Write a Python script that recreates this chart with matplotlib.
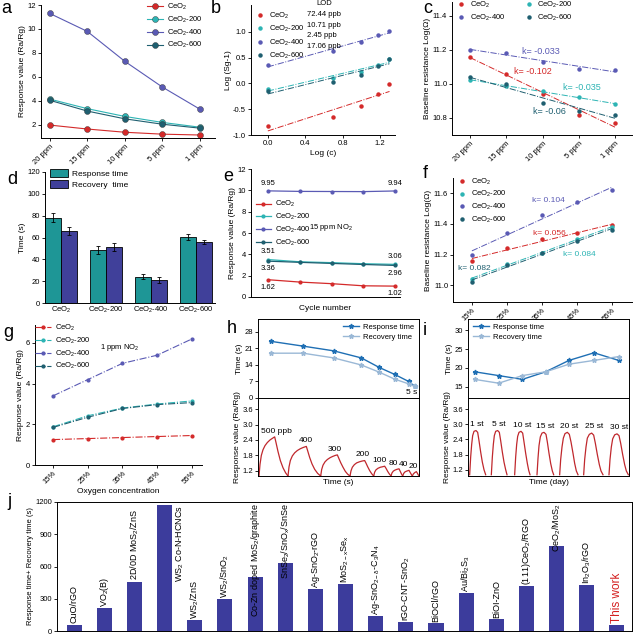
import matplotlib
matplotlib.use('Agg')
import matplotlib.pyplot as plt
import numpy as np
from matplotlib.lines import Line2D

plt.rcParams['font.family'] = ['Liberation Sans', 'DejaVu Sans']
plt.rcParams['mathtext.default'] = 'regular'
plt.rcParams['axes.linewidth'] = 0.7

# ---------------- data ----------------
samples = ['CeO$_2$', 'CeO$_2$-200', 'CeO$_2$-400', 'CeO$_2$-600']
colors = ['#d42a2a', '#2db4b4', '#5a5ab4', '#1f5f70']

ppm = ['20 ppm', '15 ppm', '10 ppm', '5 ppm', '1 ppm']
a_ceo2 = [1.98, 1.65, 1.38, 1.22, 1.15]
a_200 = [4.15, 3.35, 2.70, 2.20, 1.80]
a_400 = [11.3, 9.8, 7.3, 5.15, 3.3]
a_600 = [4.05, 3.15, 2.50, 2.05, 1.72]

conc = [1, 5, 10, 15, 20]
b_ceo2 = [-0.83, -0.66, -0.44, -0.20, -0.02]
b_200 = [-0.11, 0.10, 0.22, 0.36, 0.48]
b_400 = [0.35, 0.62, 0.80, 0.94, 1.01]
b_600 = [-0.15, 0.03, 0.17, 0.33, 0.48]
lod = ['72.44 ppb', '10.71 ppb', '2.45 ppb', '17.06 ppb']

c_ceo2 = [11.16, 11.06, 10.94, 10.82, 10.77]
c_200 = [11.02, 10.99, 10.96, 10.92, 10.88]
c_400 = [11.20, 11.18, 11.13, 11.09, 11.08]
c_600 = [11.04, 11.00, 10.89, 10.84, 10.82]
c_k = ['k= -0.102', 'k= -0.035', 'k= -0.033', 'k= -0.06']

d_resp = [78, 48.5, 24, 60.5]
d_resp_err = [4, 3.5, 2.3, 2.8]
d_rec = [66, 51.5, 21, 56]
d_rec_err = [3.5, 3.5, 2.7, 1.5]

cycles = [1, 2, 3, 4, 5]
e_ceo2 = [1.62, 1.40, 1.25, 1.05, 1.02]
e_200 = [3.51, 3.30, 3.22, 3.12, 3.06]
e_400 = [9.95, 9.90, 9.89, 9.88, 9.94]
e_600 = [3.36, 3.25, 3.15, 3.05, 2.96]

oxy = ['15%', '25%', '35%', '45%', '55%']
f_ceo2 = [11.16, 11.24, 11.30, 11.34, 11.39]
f_200 = [11.04, 11.14, 11.21, 11.30, 11.38]
f_400 = [11.20, 11.34, 11.46, 11.54, 11.62]
f_600 = [11.02, 11.13, 11.21, 11.29, 11.36]
f_k = ['k= 0.056', 'k= 0.084', 'k= 0.104', 'k= 0.082']

g_ceo2 = [1.25, 1.30, 1.35, 1.40, 1.45]
g_200 = [1.88, 2.42, 2.80, 3.00, 3.15]
g_400 = [3.40, 4.20, 5.00, 5.40, 6.20]
g_600 = [1.85, 2.35, 2.78, 2.97, 3.07]

h_conc = ['500 ppb', '400', '300', '200', '100', '80', '40', '20']
h_t = [40, 135, 227, 310, 363, 410, 452, 470]
h_resp = [24, 22, 20, 17, 13, 10, 7, 5]
h_rec = [19, 19, 17, 14, 11, 8, 6, 5]
h_curve_t = [
    [3, 6, 10, 15, 21, 28, 36, 44, 50, 54, 60, 67, 75, 83, 90],
    [90, 93, 97, 103, 110, 118, 127, 136, 145, 149, 155, 162, 170, 179, 188],
    [188, 191, 195, 201, 208, 216, 224, 232, 238, 242, 248, 255, 262, 269, 276],
    [276, 279, 283, 289, 296, 304, 312, 320, 324, 329, 335, 341, 347],
    [347, 350, 354, 360, 367, 374, 380, 384, 389, 394, 399],
    [399, 402, 406, 411, 417, 423, 426, 430, 434],
    [434, 437, 441, 446, 453, 456, 460, 463],
    [463, 466, 470, 475, 478, 481, 483],
]
h_curve_v = [
    [1.0, 1.45, 1.8, 2.02, 2.18, 2.3, 2.4, 2.47, 2.52, 2.3, 1.95, 1.6, 1.32, 1.12, 1.0],
    [1.0, 1.35, 1.6, 1.78, 1.9, 1.99, 2.06, 2.11, 2.15, 1.98, 1.72, 1.47, 1.26, 1.1, 1.0],
    [1.0, 1.25, 1.42, 1.55, 1.64, 1.71, 1.76, 1.8, 1.82, 1.7, 1.52, 1.34, 1.18, 1.07, 1.0],
    [1.0, 1.2, 1.34, 1.44, 1.51, 1.55, 1.58, 1.6, 1.5, 1.36, 1.21, 1.09, 1.0],
    [1.0, 1.15, 1.24, 1.3, 1.34, 1.36, 1.38, 1.3, 1.18, 1.08, 1.0],
    [1.0, 1.12, 1.19, 1.23, 1.26, 1.28, 1.2, 1.09, 1.0],
    [1.0, 1.1, 1.16, 1.19, 1.22, 1.15, 1.06, 1.0],
    [1.0, 1.08, 1.13, 1.17, 1.11, 1.04, 1.0],
]

i_days = ['1 st', '5 st', '10 st', '15 st', '20 st', '25 st', '30 st']
i_t = [20, 92, 163, 233, 303, 378, 452]
i_resp = [19, 18, 17, 19, 22, 24, 22]
i_rec = [17, 16, 18, 19, 21, 22, 23]
i_curve_t = [
    [5, 8, 11, 14, 18, 24, 29, 33, 38, 43, 48, 53],
    [70, 73, 76, 79, 83, 89, 94, 98, 103, 108, 113, 117],
    [140, 143, 146, 149, 153, 159, 164, 168, 173, 178, 182, 186],
    [207, 210, 213, 217, 222, 228, 234, 238, 243, 248, 253, 257],
    [275, 278, 282, 286, 291, 298, 304, 309, 315, 320, 325, 330],
    [347, 350, 354, 358, 364, 371, 377, 382, 388, 394, 399, 405],
    [423, 426, 430, 434, 440, 447, 453, 458, 464, 470, 475, 481],
]
i_curve_v = [
    [1.0, 1.7, 2.2, 2.55, 2.72, 2.75, 2.68, 2.35, 1.9, 1.5, 1.2, 1.0],
    [1.0, 1.7, 2.2, 2.55, 2.72, 2.75, 2.68, 2.35, 1.9, 1.5, 1.2, 1.0],
    [1.0, 1.7, 2.2, 2.52, 2.68, 2.72, 2.65, 2.3, 1.85, 1.45, 1.18, 1.0],
    [1.0, 1.65, 2.15, 2.5, 2.65, 2.68, 2.6, 2.3, 1.85, 1.45, 1.15, 1.0],
    [1.0, 1.6, 2.1, 2.45, 2.63, 2.68, 2.6, 2.3, 1.85, 1.45, 1.15, 1.0],
    [1.0, 1.6, 2.1, 2.45, 2.6, 2.65, 2.57, 2.25, 1.8, 1.4, 1.15, 1.0],
    [1.0, 1.6, 2.1, 2.42, 2.58, 2.62, 2.55, 2.25, 1.8, 1.4, 1.15, 1.0],
]

j_labels = ['CuO/rGO', 'VO$_2$(B)', '2D/0D MoS$_2$/ZnS', 'WS$_2$ Co-N-HCNCs',
            'WS$_2$/ZnS', 'WS$_2$/SnO$_2$', 'Co-Zn doped MoS$_2$/graphite',
            'SnSe$_2$/SnO$_x$/SnSe', 'Ag-SnO$_2$-rGO', 'MoS$_{2-x}$Se$_x$',
            'Ag-SnO$_{2-\\delta}$-C$_3$N$_4$', 'rGO-CNT-SnO$_2$', 'BiOCl/rGO',
            'Au/Bi$_2$S$_3$', 'BiOI-ZnO', '(111)CeO$_2$/RGO', 'CeO$_2$/MoS$_2$',
            'In$_2$O$_3$/rGO', 'This work']
j_vals = [60, 210, 460, 1175, 105, 300, 500, 630, 390, 440, 140, 85, 70,
          355, 115, 420, 790, 425, 60]

# ---------------- layout helpers ----------------
W, H = 640, 638
fig = plt.figure(figsize=(W / 100, H / 100), dpi=100)


def box(l, t, r, b):
    return fig.add_axes([l / W, 1 - b / H, (r - l) / W, (b - t) / H])


def style(ax, full=False):
    ax.spines['top'].set_visible(full)
    ax.spines['right'].set_visible(full)
    ax.tick_params(labelsize=5.5, length=2, width=0.6, pad=1.5)


LAB = 6
LEG = dict(frameon=False, fontsize=5.5, handletextpad=0.5, borderaxespad=0.2)

# ---------------- a ----------------
ax = box(41, 5, 215, 138)
style(ax)
xa = np.arange(len(ppm))
for vals, lab, c in zip([a_ceo2, a_200, a_400, a_600], samples, colors):
    ax.plot(xa, vals, '-o', color=c, ms=4.3, lw=0.8, mec='#333333', mew=0.3, label=lab)
ax.set_xlim(-0.23, 4.4)
ax.set_ylim(0.9, 12)
ax.set_yticks([2, 4, 6, 8, 10, 12])
ax.set_xticks(xa)
ax.set_xticklabels(ppm, rotation=45, ha='right', rotation_mode='anchor')
ax.set_ylabel('Response value (Ra/Rg)', fontsize=LAB, labelpad=1)
ax.legend(loc='upper left', bbox_to_anchor=(0.58, 1.06), labelspacing=0.35,
          handlelength=2.2, **LEG)

# ---------------- b ----------------
ax = box(251, 5, 395, 135)
style(ax)
logc = np.log10(conc)
for vals, lab, c in zip([b_ceo2, b_200, b_400, b_600], samples, colors):
    vals = np.array(vals)
    ax.plot(logc, vals, 'o', ms=2.2, color=c, label=lab)
    k, b0 = np.polyfit(logc, vals, 1)
    ends = logc[[0, -1]]
    ax.plot(ends, k * ends + b0, '-.', color=c, lw=0.7)
ax.set_xlim(-0.18, 1.36)
ax.set_ylim(-1.0, 1.52)
ax.set_xticks([0.0, 0.4, 0.8, 1.2])
ax.set_xticklabels(['0.0', '0.4', '0.8', '1.2'])
ax.set_yticks([-1.0, -0.5, 0.0, 0.5, 1.0])
ax.set_yticklabels(['-1.0', '-0.5', '0.0', '0.5', '1.0'])
ax.set_xlabel('Log (c)', fontsize=LAB, labelpad=2)
ax.set_ylabel('Log (Sg-1)', fontsize=LAB, labelpad=1)
leg1 = ax.legend(loc='upper left', bbox_to_anchor=(0.0, 1.07), title=' ',
                 title_fontsize=5.5, labelspacing=0.42, handlelength=1.2, **LEG)
ax.add_artist(leg1)
blank = [Line2D([], [], linestyle='none') for _ in lod]
ax.legend(blank, lod, loc='upper left', bbox_to_anchor=(0.36, 1.07), title='LOD',
          title_fontsize=5.5, labelspacing=0.42, handlelength=0, handletextpad=0,
          frameon=False, fontsize=5.5, borderaxespad=0.2)

# ---------------- c ----------------
ax = box(452, 2, 632, 135)
style(ax)
xc = np.arange(len(ppm))
for vals, lab, c in zip([c_ceo2, c_200, c_400, c_600], samples, colors):
    vals = np.array(vals)
    ax.plot(xc, vals, 'o', ms=2.2, color=c, label=lab)
    k, b0 = np.polyfit(xc, vals, 1)
    ax.plot(xc[[0, -1]], k * xc[[0, -1]] + b0, '-.', color=c, lw=0.7)
for txt, c, (tx, ty) in zip(c_k, colors, [(1.22, 11.074), (2.57, 10.976),
                                         (1.43, 11.19), (1.74, 10.836)]):
    ax.text(tx, ty, txt, color=c, fontsize=6.5, va='center')
ax.set_xlim(-0.5, 4.47)
ax.set_ylim(10.70, 11.48)
ax.set_yticks([10.8, 11.0, 11.2, 11.4])
ax.set_xticks(xc)
ax.set_xticklabels(ppm, rotation=45, ha='right', rotation_mode='anchor')
ax.set_ylabel('Baseline resistance Log(Ω)', fontsize=LAB, labelpad=1)
hd, lb = ax.get_legend_handles_labels()
ax.legend([hd[0], hd[2], hd[1], hd[3]], [lb[0], lb[2], lb[1], lb[3]], ncol=2,
          loc='upper left', bbox_to_anchor=(0.0, 1.05), labelspacing=0.3,
          handlelength=1.2, columnspacing=2.5, **LEG)

# ---------------- d ----------------
ax = box(45, 172, 215, 303)
style(ax)
xd = np.arange(len(samples))
w = 0.35
ek = dict(lw=0.6, capthick=0.6)
ax.bar(xd - w / 2, d_resp, w, yerr=d_resp_err, color='#1e9696', edgecolor='k',
       lw=0.6, capsize=1.5, error_kw=ek, label='Response time')
ax.bar(xd + w / 2, d_rec, w, yerr=d_rec_err, color='#40409a', edgecolor='k',
       lw=0.6, capsize=1.5, error_kw=ek, label='Recovery  time')
ax.set_xlim(-0.36, 3.42)
ax.set_ylim(0, 120)
ax.set_yticks([0, 20, 40, 60, 80, 100, 120])
ax.set_xticks(xd)
ax.set_xticklabels(samples)
ax.tick_params(axis='x', length=0)
ax.set_ylabel('Time (s)', fontsize=LAB, labelpad=1)
ax.legend(loc='upper left', bbox_to_anchor=(0.0, 1.06), fontsize=6, frameon=False,
          handlelength=2.2, handleheight=1.0, labelspacing=0.3, handletextpad=0.4,
          borderaxespad=0.2)

# ---------------- e ----------------
ax = box(251, 169, 400, 297)
style(ax)
for vals, lab, c in zip([e_ceo2, e_200, e_400, e_600], samples, colors):
    ax.plot(cycles, vals, '-o', color=c, ms=2, lw=0.9, label=lab)
offs = [(e_400, 0, 3, 'bottom'), (e_400, -1, 3, 'bottom'), (e_200, 0, 3, 'bottom'),
        (e_600, 0, -3, 'top'), (e_200, -1, 3, 'bottom'), (e_600, -1, -3, 'top'),
        (e_ceo2, 0, -3, 'top'), (e_ceo2, -1, -3, 'top')]
for vals, idx, dy, va in offs:
    ax.annotate(f'{vals[idx]:.2f}', (cycles[idx], vals[idx]), xytext=(0, dy),
                textcoords='offset points', ha='center', va=va, fontsize=5.5)
ax.text(2.3, 6.5, '15 ppm NO$_2$', fontsize=5.5, va='center')
ax.set_xlim(0.46, 5.16)
ax.set_ylim(0, 12)
ax.set_yticks([0, 2, 4, 6, 8, 10, 12])
ax.set_xticks([])
ax.set_xlabel('Cycle number', fontsize=LAB, labelpad=6)
ax.set_ylabel('Response value (Ra/Rg)', fontsize=LAB, labelpad=1)
ax.legend(loc='upper left', bbox_to_anchor=(0.0, 0.8), labelspacing=0.35,
          handlelength=2.0, **LEG)

# ---------------- f ----------------
ax = box(453, 178, 632, 302)
style(ax)
xf = np.arange(len(oxy))
for vals, lab, c in zip([f_ceo2, f_200, f_400, f_600], samples, colors):
    vals = np.array(vals)
    ax.plot(xf, vals, 'o', ms=2.2, color=c, label=lab)
    k, b0 = np.polyfit(xf, vals, 1)
    ax.plot(xf[[0, -1]], k * xf[[0, -1]] + b0, '-.', color=c, lw=0.7)
for txt, c, (tx, ty) in zip(f_k, colors, [(1.75, 11.339), (2.6, 11.202),
                                         (1.71, 11.554), (-0.4, 11.111)]):
    ax.text(tx, ty, txt, color=c, fontsize=6, va='center')
ax.set_xlim(-0.54, 4.57)
ax.set_ylim(10.89, 11.70)
ax.set_yticks([11.0, 11.2, 11.4, 11.6])
ax.set_xticks(xf)
ax.set_xticklabels(oxy, rotation=45, ha='right', rotation_mode='anchor')
ax.set_xlabel('Oxygen concentration', fontsize=LAB, labelpad=2)
ax.set_ylabel('Baseline resistance Log(Ω)', fontsize=LAB, labelpad=1)
ax.legend(loc='upper left', bbox_to_anchor=(0.0, 1.05), labelspacing=0.35,
          handlelength=1.2, **LEG)

# ---------------- g ----------------
ax = box(35, 325, 202, 465)
style(ax)
xg = np.arange(len(oxy))
for vals, lab, c in zip([g_ceo2, g_200, g_400, g_600], samples, colors):
    ax.plot(xg, vals, '-.o', color=c, ms=2, lw=0.8, label=lab)
ax.text(1.35, 5.8, '1 ppm NO$_2$', fontsize=5.5, va='center')
ax.set_xlim(-0.52, 4.29)
ax.set_ylim(0, 6.885)
ax.set_yticks([0, 2, 4, 6])
ax.set_xticks(xg)
ax.set_xticklabels(oxy, rotation=45, ha='right', rotation_mode='anchor')
ax.set_xlabel('Oxygen concentration', fontsize=LAB, labelpad=2)
ax.set_ylabel('Response value (Ra/Rg)', fontsize=LAB, labelpad=1)
ax.legend(loc='upper left', bbox_to_anchor=(-0.03, 1.05), labelspacing=0.35,
          handlelength=2.2, **LEG)

# ---------------- h ----------------
resp_c, rec_c, curve_c = '#1f6fb4', '#9ab8d6', '#c0282d'
ax = box(258, 319, 419, 398)
style(ax, full=True)
ax.plot(h_t, h_resp, '-*', color=resp_c, ms=3.5, lw=1.0, label='Response time')
ax.plot(h_t, h_rec, '-*', color=rec_c, ms=3.5, lw=1.0, label='Recovery time')
ax.text(0.99, 0.02, '5 s', transform=ax.transAxes, ha='right', va='bottom', fontsize=6)
ax.set_xlim(0, 483)
ax.set_ylim(0, 33.5)
ax.set_yticks([0, 7, 14, 21, 28])
ax.set_xticks([])
ax.set_ylabel('Time (s)', fontsize=LAB, labelpad=1)
ax.legend(loc='upper right', labelspacing=0.3, handlelength=2.2, **LEG)

ax = box(258, 398, 419, 476)
style(ax, full=True)
for tt, vv in zip(h_curve_t, h_curve_v):
    ax.plot(tt, vv, '-', color=curve_c, lw=0.9)
h_lab_x = [55, 145, 230, 315, 363, 405, 437, 467]
for lab, lx, vv in zip(h_conc, h_lab_x, h_curve_v):
    ax.annotate(lab, (lx, max(vv)), xytext=(0, 1.5), textcoords='offset points',
                ha='center', va='bottom', fontsize=6)
ax.set_xlim(0, 483)
ax.set_ylim(1.0, 4.03)
ax.set_yticks([1.2, 1.8, 2.4, 3.0, 3.6])
ax.set_xticks([])
ax.set_xlabel('Time (s)', fontsize=LAB, labelpad=2)
ax.set_ylabel('Response value (Ra/Rg)', fontsize=LAB, labelpad=1)

# ---------------- i ----------------
ax = box(468, 319, 629, 398)
style(ax, full=True)
ax.plot(i_t, i_resp, '-*', color=resp_c, ms=3.5, lw=1.0, label='Response time')
ax.plot(i_t, i_rec, '-*', color=rec_c, ms=3.5, lw=1.0, label='Recovery time')
ax.set_xlim(0, 483)
ax.set_ylim(12.1, 32.9)
ax.set_yticks([15, 20, 25, 30])
ax.set_xticks([])
ax.set_ylabel('Time (s)', fontsize=LAB, labelpad=1)
ax.legend(loc='upper left', labelspacing=0.3, handlelength=2.2, **LEG)

ax = box(468, 398, 629, 476)
style(ax, full=True)
for tt, vv in zip(i_curve_t, i_curve_v):
    ax.plot(tt, vv, '-', color=curve_c, lw=0.9)
i_lab_x = [25, 92, 163, 233, 303, 378, 452]
for lab, lx, vv in zip(i_days, i_lab_x, i_curve_v):
    ax.annotate(lab, (lx, max(vv)), xytext=(0, 2), textcoords='offset points',
                ha='center', va='bottom', fontsize=6)
ax.set_xlim(0, 483)
ax.set_ylim(0.95, 4.04)
ax.set_yticks([1.2, 1.8, 2.4, 3.0, 3.6])
ax.set_xticks([])
ax.set_xlabel('Time (day)', fontsize=LAB, labelpad=2)
ax.set_ylabel('Response value (Ra/Rg)', fontsize=LAB, labelpad=1)

# ---------------- j ----------------
axj = box(57, 502, 632, 631)
style(axj, full=True)
xj = np.arange(len(j_vals))
axj.bar(xj, j_vals, 0.5, color='#3c3c9c')
axj.set_xlim(-0.57, 18.5)
axj.set_ylim(0, 1200)
axj.set_yticks([0, 300, 600, 900, 1200])
axj.set_xticks([])
axj.set_ylabel('Response time+ Recovery time (s)', fontsize=5.5, labelpad=1)
j_texts = []
for x, v, lab in zip(xj, j_vals, j_labels):
    if lab == 'This work':
        t = axj.text(x, v + 15, lab, rotation=90, ha='center', va='bottom',
                     fontsize=8.5, color='#d42020')
    elif v > 1000:
        t = axj.text(x + 0.52, 1170, lab, rotation=90, ha='center', va='top',
                     fontsize=6.5)
    else:
        t = axj.text(x, v + 10, lab, rotation=90, ha='center', va='bottom',
                     fontsize=6.5)
    j_texts.append(t)
fig.canvas.draw()
rend = fig.canvas.get_renderer()
for t in j_texts:
    bb = t.get_window_extent(rend)
    top = axj.transData.inverted().transform((0, bb.y1))[1]
    if top > 1195 and t.get_va() == 'bottom':
        t.set_y(1190)
        t.set_va('top')

# ---------------- panel letters ----------------
for letter, (lx, ly) in zip('abcdefghij', [(1, 0), (211, 0), (423, 0), (7, 171),
                                           (223, 168), (423, 165), (3, 324),
                                           (227, 320), (423, 322), (7, 493)]):
    fig.text(lx / W, 1 - ly / H, letter, fontsize=13, va='top', ha='left')

fig.savefig('out.png', dpi=100)
